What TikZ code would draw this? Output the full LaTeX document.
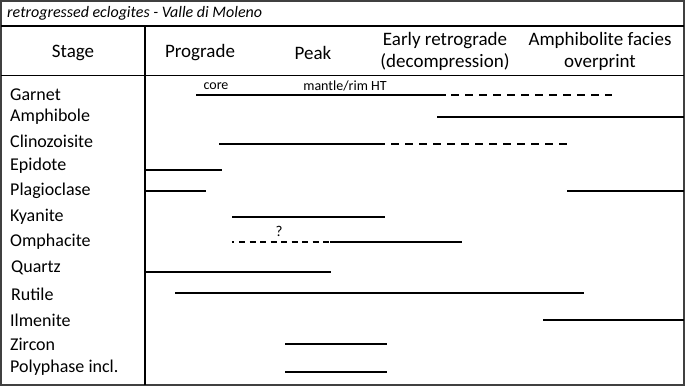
\documentclass[tikz,border=0pt]{standalone}
\usepackage{fontspec}
\setmainfont{Carlito}
\begin{document}
\begin{tikzpicture}[x=1pt,y=-1pt,
  bar/.style={line width=2.9pt},
  dbar/.style={line width=2.9pt,dash pattern=on 8pt off 6pt},
  grid/.style={line width=1.3pt,black},
  hdr/.style={font=\fontsize{19}{22}\selectfont,align=center,inner sep=0pt},
  row/.style={font=\fontsize{18}{20}\selectfont,anchor=west,inner sep=0pt},
  small/.style={font=\fontsize{14}{16}\selectfont,inner sep=0pt}]
\useasboundingbox (0,0) rectangle (685,386);
\fill[white] (0,0) rectangle (685,386);
% frame
\draw[line width=2.2pt,black!75] (1.1,1.1) rectangle (683.9,384.9);
\draw[grid] (1,26) -- (684,26);
\draw[grid] (1,75.5) -- (684,75.5);
\draw[grid] (145,26) -- (145,385);
% title
\node[small,anchor=west,font=\itshape\fontsize{16}{18}\selectfont] (title) at (7,13) {retrogressed eclogites - Valle di Moleno};
% headers
\node[hdr] (stage) at (73,52.5) {Stage};
\node[hdr] (prog) at (200,52.5) {Prograde};
\node[hdr] (peak) at (313,52.5) {Peak};
\node[hdr] (early) at (445,51.5) {Early retrograde\\(decompression)};
\node[hdr] (amph) at (600,51.5) {Amphibolite facies\\overprint};
% rows
\node[row] (garnet) at (10,95) {Garnet};
\node[row] (amphibole) at (10,117) {Amphibole};
\node[row] (clino) at (10,141) {Clinozoisite};
\node[row] (epidote) at (10,166) {Epidote};
\node[row] (plag) at (10,191) {Plagioclase};
\node[row] (kyanite) at (10,217) {Kyanite};
\node[row] (omph) at (10,242) {Omphacite};
\node[row] (quartz) at (11,268) {Quartz};
\node[row] (rutile) at (11,294) {Rutile};
\node[row] (ilm) at (10,320) {Ilmenite};
\node[row] (zircon) at (10,344) {Zircon};
\node[row] (poly) at (10,368) {Polyphase incl.};
% small labels
\node[small] (core) at (216,86) {core};
\node[small] (mantle) at (345,86) {mantle/rim HT};
\node[small,font=\fontsize{15}{17}\selectfont] (q) at (279,231) {?};
% bars
\draw[bar] (196,95) -- (446,95);
\draw[dbar] (451,95) -- (612,95);
\draw[bar] (437,117) -- (684,117);
\draw[bar] (219,144) -- (385,144);
\draw[dbar] (391,144) -- (568,144);
\draw[bar] (145,170) -- (222,170);
\draw[bar] (145,191) -- (206,191);
\draw[bar] (567,191) -- (684,191);
\draw[bar] (232,217) -- (385,217);
\draw[bar,dash pattern=on 2pt off 5pt on 6pt off 4.5pt on 6pt off 4.5pt on 6pt off 4.5pt on 6pt off 4.5pt on 6pt off 4.5pt on 6pt off 4.5pt on 6pt off 4.5pt on 6pt off 4.5pt on 6pt off 3pt] (232,242) -- (330,242);
\draw[bar] (330,242) -- (462,242);
\draw[bar] (145,272) -- (331,272);
\draw[bar] (175,293) -- (584,293);
\draw[bar] (543,320) -- (684,320);
\draw[bar] (285,344) -- (387,344);
\draw[bar] (285,372) -- (387,372);
\end{tikzpicture}
\end{document}
